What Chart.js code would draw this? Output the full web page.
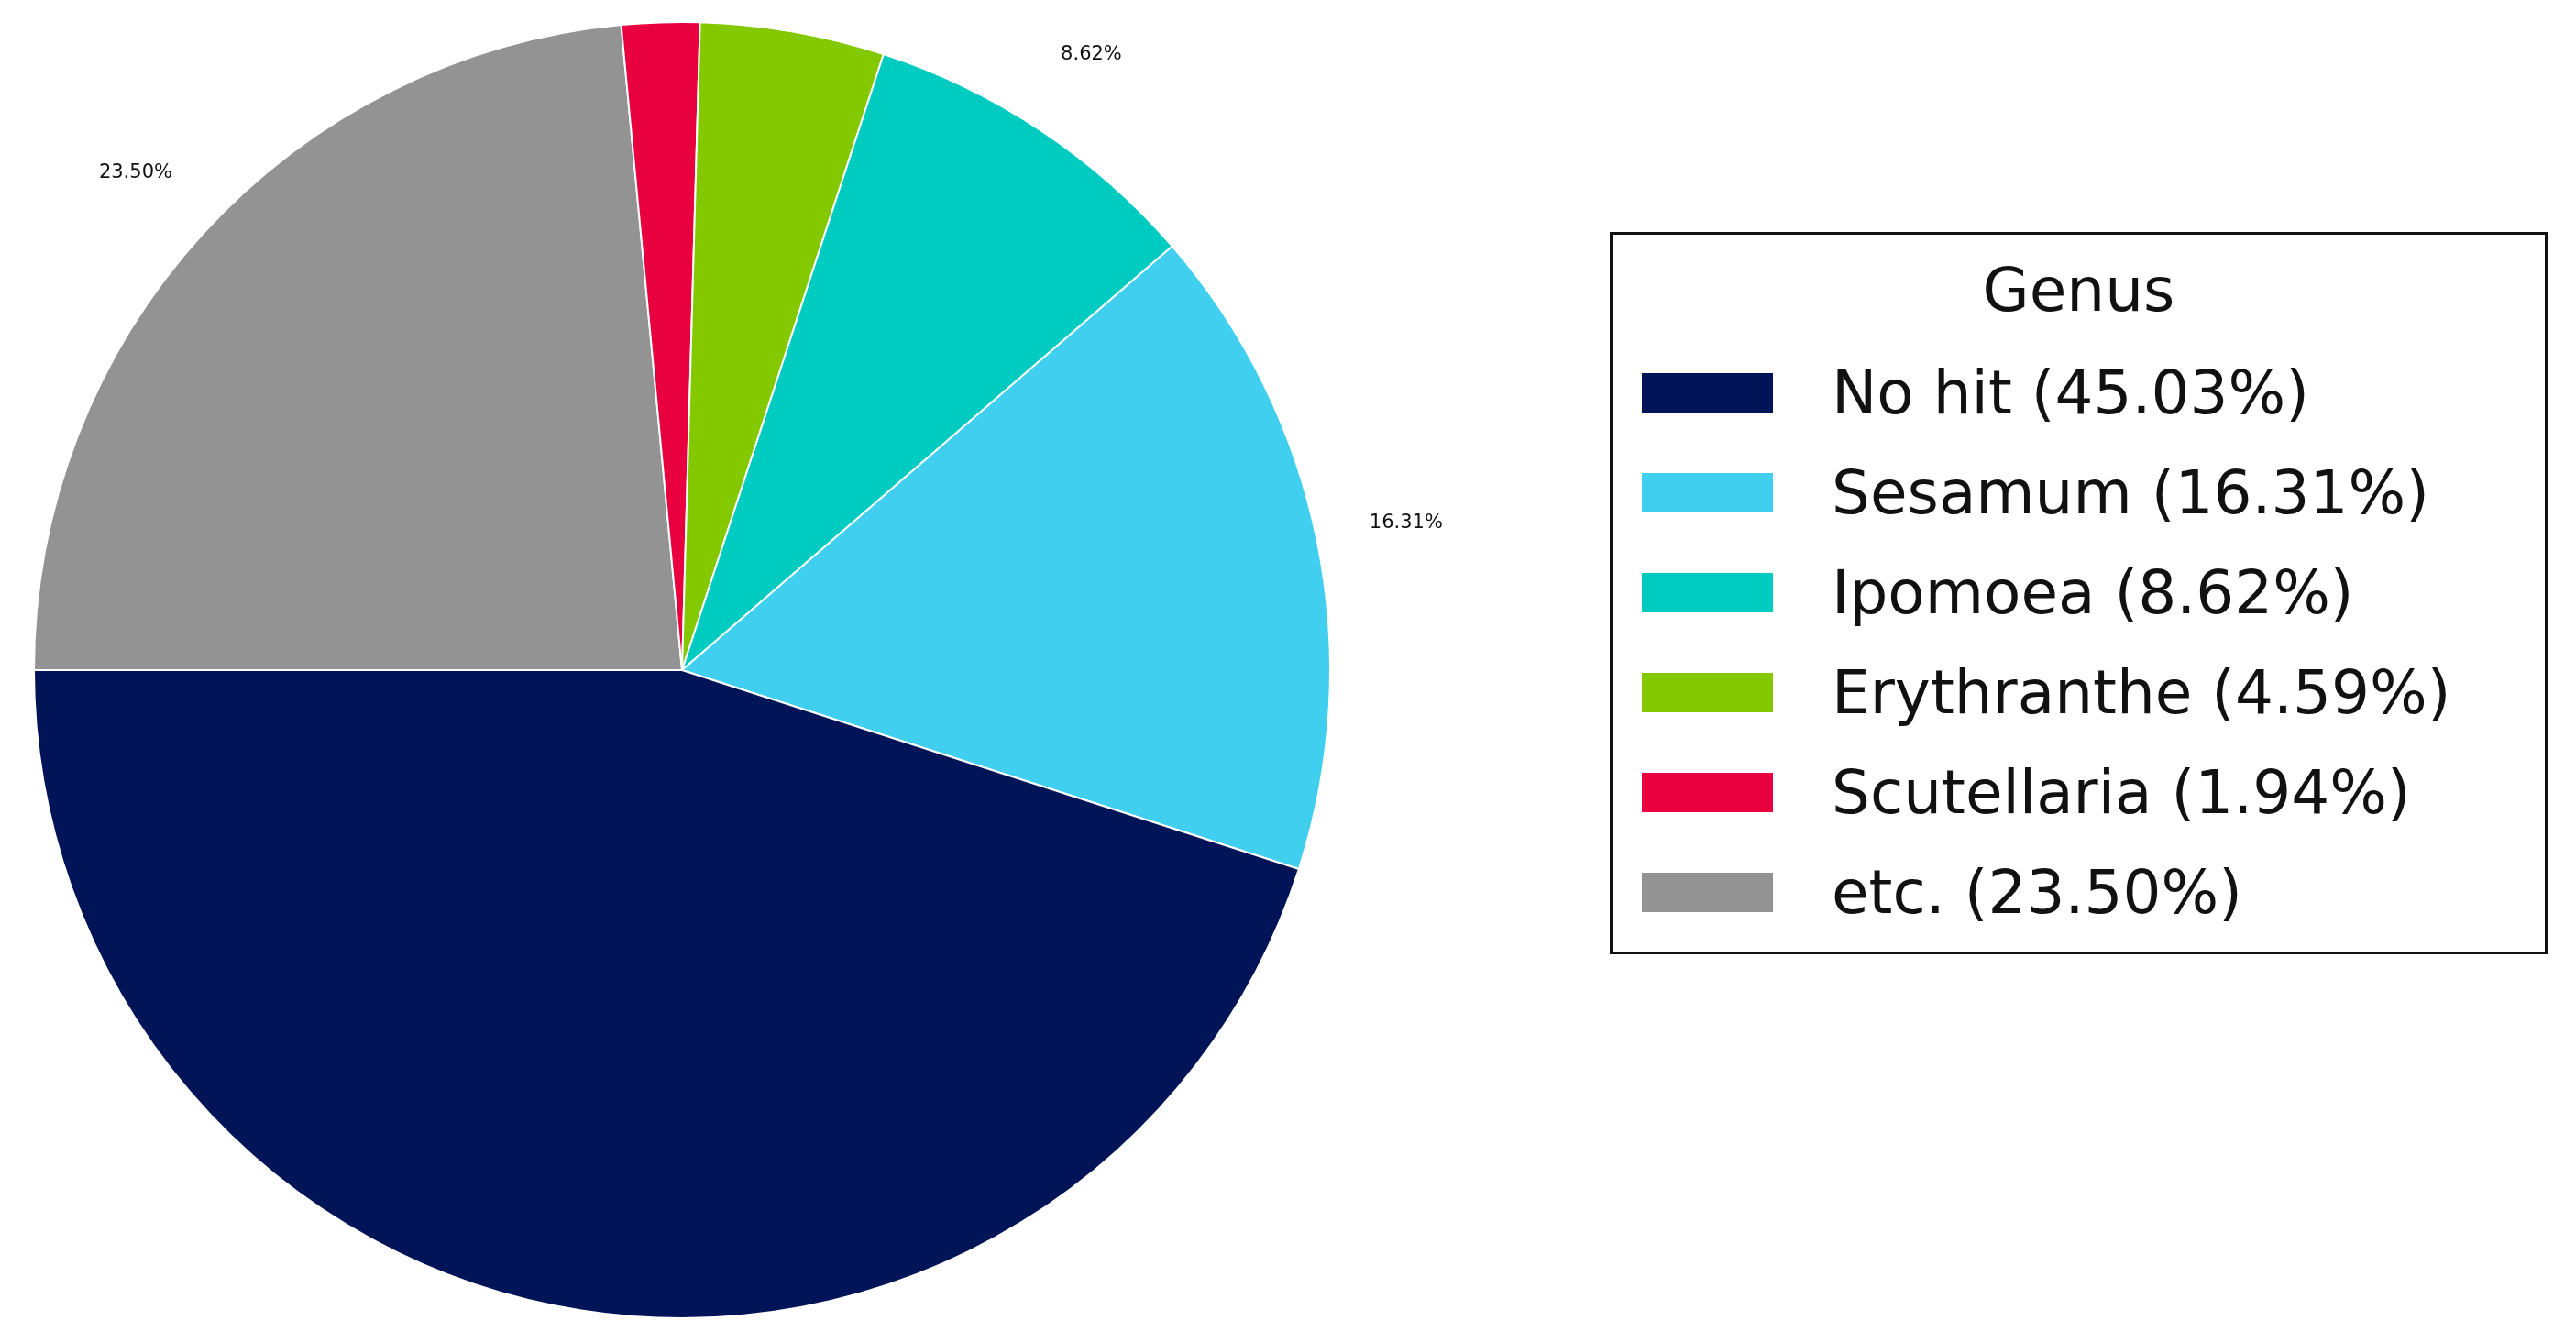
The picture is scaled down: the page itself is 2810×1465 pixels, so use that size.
<!DOCTYPE html>
<html>
<head>
<meta charset="utf-8">
<script src="https://cdn.jsdelivr.net/npm/chart.js@4"></script>
<style>
  html, body { margin: 0; padding: 0; background: #fff; }
  #wrap { position: relative; width: 2810px; height: 1465px; }
  #legend {
    position: absolute; left: 1756px; top: 253px; width: 1023px; height: 788px;
    border: 3px solid #111; box-sizing: border-box; font-family: 'DejaVu Sans', sans-serif;
    color: #111;
  }
  #legend .title { text-align: center; font-size: 66px; margin-top: 22px; height: 96px; }
  #legend .row { display: flex; align-items: center; height: 109px; margin-left: 32px; font-size: 66px; }
  #legend .sw { width: 143px; height: 43px; margin-right: 64px; }
</style>
</head>
<body>
<div id="wrap">
  <canvas id="pie" width="2810" height="1465"></canvas>
  <div id="legend"><div class="title">Genus</div></div>
</div>
<script>
// ========== Dados ==========
const genera = ['No hit', 'Sesamum', 'Ipomoea', 'Erythranthe', 'Scutellaria', 'etc.'];
const shares = [45.03, 16.31, 8.62, 4.59, 1.94, 23.50];
const colors = ['#001457', '#41cfef', '#00cbc0', '#84c800', '#e8003f', '#939393'];
const labelled = ['Sesamum', 'Ipomoea', 'etc.'];

// matplotlib draws counterclockwise from 9 o'clock; Chart.js goes clockwise, so reverse
const order = genera.map((_, i) => i).reverse();

// ========== Legenda ==========
const legend = document.getElementById('legend');
genera.forEach((g, i) => {
  const row = document.createElement('div');
  row.className = 'row';
  row.innerHTML = '<div class="sw" style="background:' + colors[i] + '"></div>' +
    '<span>' + g + ' (' + shares[i].toFixed(2) + '%)</span>';
  legend.appendChild(row);
});

// ========== Pizza ==========
new Chart(document.getElementById('pie'), {
  type: 'pie',
  data: {
    labels: order.map(i => genera[i]),
    datasets: [{
      data: order.map(i => shares[i]),
      backgroundColor: order.map(i => colors[i]),
      borderColor: '#ffffff',
      borderWidth: 2
    }]
  },
  options: {
    responsive: false,
    animation: false,
    devicePixelRatio: 1,
    rotation: -90,
    layout: { padding: { left: 36, right: 1358, top: 23, bottom: 26 } },
    plugins: { legend: { display: false }, tooltip: { enabled: false } }
  },
  plugins: [{
    id: 'pctLabels',
    afterDraw(chart) {
      const { ctx } = chart;
      const meta = chart.getDatasetMeta(0);
      ctx.save();
      ctx.fillStyle = '#111';
      ctx.font = '21px DejaVu Sans';
      ctx.textAlign = 'center';
      ctx.textBaseline = 'middle';
      meta.data.forEach((arc, k) => {
        const name = chart.data.labels[k];
        if (!labelled.includes(name)) return;
        const mid = (arc.startAngle + arc.endAngle) / 2;
        const r = arc.outerRadius * 1.14;
        ctx.fillText(chart.data.datasets[0].data[k].toFixed(2) + '%',
          arc.x + Math.cos(mid) * r, arc.y + Math.sin(mid) * r);
      });
      ctx.restore();
    }
  }]
});
</script>
</body>
</html>
